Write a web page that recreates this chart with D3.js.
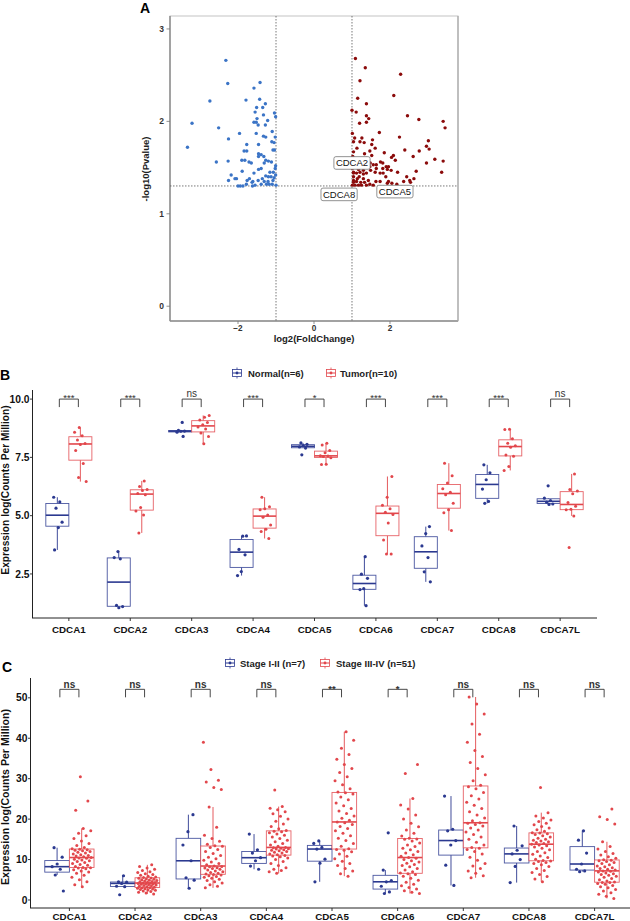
<!DOCTYPE html>
<html>
<head>
<meta charset="utf-8">
<script src="https://cdn.jsdelivr.net/npm/d3@7"></script>
<style>
body { margin: 0; background: #fff; }
svg { display: block; font-family: "Liberation Sans", Arial, sans-serif; }
</style>
</head>
<body>
<svg id="svg" width="630" height="921"></svg>
<script>
// ---- data ----
const genes = ['CDCA1', 'CDCA2', 'CDCA3', 'CDCA4', 'CDCA5', 'CDCA6', 'CDCA7', 'CDCA8', 'CDCA7L'];

// volcano: [log2FC, -log10 p]
const downGenes = [
  [-2.32,2.66],[-2.27,2.41],[-1.42,2.42],[-1.58,2.36],[-2.74,2.22],[-1.79,2.23],[-1.43,2.24],[-1.28,2.19],
  [-1.51,2.15],[-1.35,2.15],[-1.55,2.10],[-1.04,2.09],[-1.01,2.05],[-1.33,2.07],[-1.50,2.03],[-3.21,1.98],
  [-2.51,1.93],[-1.58,1.99],[-1.52,1.99],[-1.47,1.96],[-1.28,1.96],[-1.22,2.01],[-1.10,1.89],[-1.33,1.84],
  [-1.27,1.83],[-1.52,1.87],[-1.96,1.87],[-2.25,1.81],[-1.02,1.83],[-1.11,1.78],[-1.05,1.77],[-3.33,1.72],
  [-1.77,1.75],[-1.46,1.75],[-1.84,1.68],[-1.77,1.68],[-1.04,1.69],[-1.08,1.69],[-1.46,1.65],[-1.39,1.64],
  [-1.32,1.62],[-1.46,1.62],[-1.90,1.58],[-1.82,1.58],[-1.71,1.56],[-1.65,1.55],[-2.57,1.56],[-2.26,1.57],
  [-1.27,1.58],[-1.20,1.57],[-1.12,1.56],[-1.31,1.55],[-1.01,1.52],[-1.89,1.46],[-1.46,1.48],[-1.39,1.49],
  [-1.16,1.45],[-1.07,1.45],[-1.58,1.44],[-2.18,1.42],[-2.08,1.38],[-2.04,1.38],[-2.25,1.36],[-1.76,1.36],
  [-1.70,1.38],[-1.61,1.35],[-1.36,1.38],[-1.27,1.41],[-1.20,1.40],[-1.13,1.40],[-1.05,1.39],[-1.01,1.42],
  [-1.47,1.36],[-1.63,1.34],[-1.39,1.32],[-1.25,1.32],[-1.18,1.32],[-1.10,1.32],[-1.00,1.31],[-2.00,1.30],
  [-1.94,1.30],[-1.87,1.30],[-1.78,1.32],[-1.62,1.30],[-1.55,1.31],[-1.21,1.35],[-1.31,1.35],[-1.08,1.36],
  [-1.02,1.49]
];
const upGenes = [
  [1.09,2.68],[1.35,2.58],[2.28,2.51],[1.21,2.44],[1.15,2.25],[2.10,2.28],[1.38,2.19],[1.00,2.12],
  [1.11,2.10],[1.38,2.06],[1.44,2.03],[2.46,2.06],[2.76,2.02],[3.40,2.00],[3.45,1.93],[1.20,1.98],
  [1.38,1.99],[1.72,1.88],[1.01,1.87],[2.25,1.83],[1.07,1.82],[1.26,1.82],[1.04,1.78],[1.21,1.78],
  [1.32,1.77],[1.54,1.80],[3.01,1.79],[1.52,1.75],[1.13,1.71],[1.61,1.71],[2.96,1.73],[3.03,1.70],
  [2.39,1.69],[1.04,1.67],[1.47,1.68],[1.33,1.65],[2.77,1.68],[1.85,1.66],[2.09,1.63],[2.04,1.61],
  [2.14,1.58],[1.52,1.63],[1.38,1.60],[2.61,1.62],[3.18,1.59],[3.40,1.57],[1.17,1.57],[1.75,1.56],
  [1.81,1.55],[2.96,1.55],[1.48,1.55],[1.56,1.53],[1.64,1.53],[1.12,1.51],[1.34,1.52],[1.90,1.51],
  [1.93,1.48],[1.96,1.51],[2.03,1.47],[1.81,1.49],[3.36,1.45],[1.49,1.47],[1.61,1.45],[2.69,1.46],
  [2.20,1.45],[1.38,1.44],[1.74,1.44],[1.82,1.44],[1.04,1.45],[1.12,1.44],[1.21,1.45],[1.30,1.43],
  [1.89,1.40],[2.44,1.40],[1.19,1.40],[1.30,1.38],[1.43,1.36],[1.04,1.40],[1.04,1.36],[1.14,1.38],
  [1.74,1.35],[2.52,1.36],[2.63,1.38],[2.36,1.35],[1.04,1.34],[1.12,1.35],[1.23,1.34],[1.33,1.34],
  [1.47,1.32],[1.63,1.35],[1.93,1.33],[1.96,1.35],[1.01,1.31],[1.08,1.31],[1.17,1.31],[1.25,1.31],
  [1.38,1.31],[1.56,1.31],[1.04,1.44],[1.01,1.49],[1.07,1.55],[1.02,1.62],[1.17,1.48],[1.25,1.51],
  [1.30,1.47],[2.05,1.33],[2.18,1.32],[2.54,1.34],[1.47,1.51],[1.64,1.49]
];
const labelNames = ['CDCA2', 'CDCA8', 'CDCA5'];
const labelFC = [1.00, 0.66, 2.13];
const labelP = [1.55, 1.21, 1.24];
const volcanoXTicks = [-2, 0, 2];
const volcanoYTicks = [0, 1, 2, 3];

// panel B: Normal (n=6) vs Tumor (n=10)
const bNormal = [
  [5.79, 5.59, 5.32, 4.72, 4.49, 3.53],
  [3.46, 3.20, 3.15, 1.15, 1.10, 1.05],
  [9.00, 8.66, 8.63, 8.62, 8.58, 8.40],
  [4.13, 4.12, 3.55, 3.32, 2.60, 2.43],
  [8.12, 8.06, 8.00, 7.95, 7.90, 7.61],
  [3.24, 2.49, 2.31, 1.87, 1.83, 1.14],
  [4.53, 4.23, 3.70, 3.20, 2.59, 2.16],
  [7.18, 6.84, 6.54, 6.14, 5.61, 5.53],
  [6.28, 5.75, 5.65, 5.58, 5.50, 5.48]
];
const bTumor = [
  [8.78, 8.58, 8.43, 8.25, 8.10, 8.05, 7.80, 7.24, 6.64, 6.46],
  [6.49, 6.25, 6.12, 6.08, 5.95, 5.90, 5.35, 5.20, 5.03, 4.26],
  [9.30, 9.22, 9.10, 9.00, 8.90, 8.80, 8.72, 8.55, 8.40, 8.08],
  [5.79, 5.38, 5.30, 5.25, 5.03, 4.93, 4.60, 4.42, 4.32, 4.02],
  [8.11, 8.03, 7.79, 7.70, 7.57, 7.56, 7.54, 7.48, 7.20, 7.19],
  [6.68, 5.79, 5.45, 5.30, 5.15, 5.05, 4.68, 3.96, 3.36, 3.36],
  [7.25, 6.71, 6.40, 6.15, 6.00, 5.90, 5.53, 5.25, 5.12, 4.36],
  [8.71, 8.70, 8.30, 8.11, 8.00, 7.93, 7.60, 7.55, 7.11, 6.94],
  [6.79, 6.12, 6.06, 5.94, 5.56, 5.40, 5.28, 5.25, 4.99, 3.63]
];
const bSig = ['***', '***', 'ns', '***', '*', '***', '***', '***', 'ns'];
const bYTicks = [2.5, 5.0, 7.5, 10.0];
const bLegend = ['Normal(n=6)', 'Tumor(n=10)'];

// panel C: Stage I-II (n=7) vs Stage III-IV (n=51)
const cEarly = [
  [12.93, 10.6, 8.90, 8.24, 7.60, 6.18, 2.22],
  [6.0, 4.5, 4.4, 4.1, 3.4, 3.3, 1.3],
  [21.1, 16.9, 13.6, 9.7, 5.5, 4.9, 2.9],
  [16.3, 12.4, 11.6, 10.46, 9.7, 8.4, 7.6],
  [14.6, 14.0, 13.0, 12.6, 10.1, 9.1, 4.5],
  [16.6, 7.4, 4.8, 4.5, 3.4, 2.0, 1.6],
  [25.7, 17.5, 17.1, 14.7, 13.6, 8.6, 3.6],
  [18.3, 13.4, 12.3, 11.4, 10.0, 8.3, 4.3],
  [17.1, 14.8, 11.6, 8.9, 7.6, 7.2, 7.0]
];
const cLate = [
  [3.3,3.8,4.5,5.0,5.6,6.1,6.6,6.9,7.2,7.5,7.7,7.9,8.0,8.05,8.3,8.6,8.8,9.0,9.3,9.5,9.7,9.9,10.1,10.3,10.4,10.5,
   10.7,10.9,11.0,11.2,11.4,11.6,11.8,12.0,12.2,12.3,12.45,12.55,12.65,13.0,13.5,14.0,14.6,15.2,15.9,16.5,17.1,17.7,22.2,24.5,30.5],
  [1.5,1.7,1.9,2.1,2.2,2.4,2.5,2.6,2.7,2.8,2.9,3.0,3.05,3.15,3.3,3.4,3.5,3.6,3.7,3.8,3.9,3.95,4.0,4.1,4.15,4.2,
   4.3,4.4,4.5,4.6,4.7,4.8,4.9,5.0,5.1,5.2,5.35,5.45,5.55,5.7,5.9,6.1,6.3,6.5,6.8,7.0,7.3,7.6,7.9,8.3,8.7],
  [3.0,3.4,3.8,4.2,4.5,4.8,5.1,5.4,5.6,5.8,6.0,6.2,6.3,6.4,6.6,6.8,7.0,7.2,7.4,7.6,7.8,7.9,8.0,8.2,8.3,8.4,
   8.7,9.0,9.4,9.8,10.2,10.6,11.0,11.5,12.0,12.5,13.0,13.3,13.4,13.8,14.5,15.2,16.0,18.0,23.0,27.3,27.8,29.2,29.6,32.3,39.0],
  [6.6,7.0,7.3,7.6,8.0,8.5,9.0,9.5,10.0,10.4,10.7,10.9,11.0,11.2,11.4,11.6,11.8,12.0,12.2,12.3,12.4,12.6,12.7,12.8,12.9,13.0,
   13.3,13.6,14.0,14.4,14.8,15.2,15.6,16.0,16.3,16.6,16.9,17.0,17.2,17.6,18.2,18.8,19.5,20.0,20.7,21.3,21.8,22.3,22.7,23.1,27.2],
  [5.9,6.5,7.2,7.8,8.5,9.0,9.6,10.2,10.8,11.4,11.9,12.3,12.5,12.7,13.3,14.0,14.7,15.3,15.9,16.5,17.1,17.7,18.2,18.7,19.1,19.3,
   19.7,20.2,20.8,21.4,22.0,22.6,23.3,24.0,24.8,25.5,26.2,26.5,26.7,27.5,28.5,29.5,30.5,31.5,32.5,33.5,34.8,36.0,37.5,39.5,41.6],
  [1.6,1.9,2.3,2.7,3.1,3.5,3.9,4.4,4.9,5.4,5.9,6.3,6.5,6.7,7.0,7.4,7.8,8.2,8.5,8.8,9.1,9.4,9.7,10.0,10.3,10.5,
   10.8,11.2,11.6,12.0,12.4,12.8,13.2,13.6,14.1,14.6,15.0,15.1,15.3,15.8,16.5,17.3,18.1,19.0,20.0,21.0,22.5,23.5,25.1,31.3,33.5],
  [5.5,6.0,6.6,7.2,7.8,8.4,9.0,9.8,10.6,11.4,12.0,12.5,12.8,13.0,13.6,14.3,15.0,15.6,16.2,16.8,17.3,17.8,18.3,18.7,19.0,19.1,
   19.6,20.3,21.0,21.8,22.6,23.4,24.2,25.0,25.8,26.6,27.5,28.0,28.4,29.5,31.0,32.5,34.0,35.5,37.0,39.0,41.0,43.5,46.0,48.5,50.2],
  [4.5,5.2,5.8,6.3,6.8,7.3,7.8,8.3,8.7,9.0,9.3,9.5,9.65,9.75,10.1,10.5,10.9,11.3,11.7,12.0,12.4,12.8,13.1,13.4,13.6,13.8,
   14.0,14.2,14.4,14.6,14.8,15.0,15.3,15.6,15.9,16.2,16.4,16.55,16.65,17.0,17.4,17.8,18.2,18.6,19.0,19.4,19.8,20.3,20.8,21.6,27.8],
  [0.4,0.9,1.4,1.8,2.2,2.6,3.0,3.3,3.6,3.9,4.1,4.3,4.35,4.45,4.7,5.0,5.3,5.6,5.9,6.1,6.3,6.5,6.7,6.9,7.1,7.2,
   7.4,7.6,7.8,8.0,8.2,8.4,8.7,9.0,9.3,9.5,9.7,9.85,9.95,10.3,10.7,11.1,11.5,12.0,12.6,13.2,14.4,18.8,19.9,20.6,22.5]
];
const cSig = ['ns', 'ns', 'ns', 'ns', '**', '*', 'ns', 'ns', 'ns'];
const cYTicks = [0, 10, 20, 30, 40, 50];
const cLegend = ['Stage I-II (n=7)', 'Stage III-IV (n=51)'];

const blue = '#2b3990';
const red = '#e2474c';

const svg = d3.select('#svg');

// ---------------- panel A : volcano ----------------
const ax = d3.scaleLinear().domain([-3.79, 3.79]).range([170, 458]);
const ay = d3.scaleLinear().domain([-0.16, 3.14]).range([321, 16]);
const gA = svg.append('g');

gA.append('rect')
  .attr('x', 170).attr('y', 16).attr('width', 288).attr('height', 305)
  .attr('fill', 'none').attr('stroke', '#c4c4c4').attr('stroke-width', 1);
gA.append('line').attr('x1', 170).attr('x2', 170).attr('y1', 16).attr('y2', 321)
  .attr('stroke', '#8c8c8c').attr('stroke-width', 1.5);
gA.append('line').attr('x1', 170).attr('x2', 458).attr('y1', 321).attr('y2', 321)
  .attr('stroke', '#8c8c8c').attr('stroke-width', 1.5);
gA.append('line').attr('x1', 458).attr('x2', 458).attr('y1', 16).attr('y2', 321)
  .attr('stroke', '#a8a8a8').attr('stroke-width', 1.2);

[-1, 1].forEach(function(v) {
  gA.append('line').attr('x1', ax(v)).attr('x2', ax(v)).attr('y1', 16).attr('y2', 321)
    .attr('stroke', '#555').attr('stroke-width', 0.8).attr('stroke-dasharray', '1.5,1.5');
});
gA.append('line').attr('x1', 170).attr('x2', 458).attr('y1', ay(1.301)).attr('y2', ay(1.301))
  .attr('stroke', '#555').attr('stroke-width', 0.8).attr('stroke-dasharray', '1.5,1.5');

gA.selectAll('circle.down').data(downGenes).enter().append('circle')
  .attr('cx', function(d) { return ax(d[0]); })
  .attr('cy', function(d) { return ay(d[1]); })
  .attr('r', 1.7).attr('fill', '#3b74c6');
gA.selectAll('circle.up').data(upGenes).enter().append('circle')
  .attr('cx', function(d) { return ax(d[0]); })
  .attr('cy', function(d) { return ay(d[1]); })
  .attr('r', 1.7).attr('fill', '#8b0b0b');

labelNames.forEach(function(name, i) {
  const cx = ax(labelFC[i]), cy = ay(labelP[i]);
  const t = gA.append('text').attr('x', cx).attr('y', cy + 3.3)
    .attr('text-anchor', 'middle').attr('font-size', 9.5).attr('fill', '#111').text(name);
  const bb = t.node().getBBox();
  gA.insert('rect', function() { return t.node(); })
    .attr('x', bb.x - 2).attr('y', cy - 6.3).attr('width', bb.width + 4).attr('height', 12.6)
    .attr('rx', 2).attr('fill', '#fff').attr('stroke', '#777').attr('stroke-width', 0.8);
});

volcanoYTicks.forEach(function(v) {
  gA.append('line').attr('x1', 166.5).attr('x2', 170).attr('y1', ay(v)).attr('y2', ay(v))
    .attr('stroke', '#777').attr('stroke-width', 0.8);
  gA.append('text').attr('x', 164).attr('y', ay(v) + 3).attr('text-anchor', 'end')
    .attr('font-size', 8.5).attr('font-weight', 'bold').attr('fill', '#333').text(v);
});
volcanoXTicks.forEach(function(v) {
  gA.append('line').attr('x1', ax(v)).attr('x2', ax(v)).attr('y1', 321).attr('y2', 324)
    .attr('stroke', '#777').attr('stroke-width', 0.8);
  gA.append('text').attr('x', ax(v)).attr('y', 331).attr('text-anchor', 'middle')
    .attr('font-size', 8.2).attr('font-weight', 'bold').attr('fill', '#333')
    .text(v < 0 ? '\u2212' + Math.abs(v) : v);
});
gA.append('text').attr('x', 314).attr('y', 342).attr('text-anchor', 'middle')
  .attr('font-size', 9.5).attr('font-weight', 'bold').attr('fill', '#222').text('log2(FoldChange)');
gA.append('text').attr('transform', 'translate(149,169) rotate(-90)').attr('text-anchor', 'middle')
  .attr('font-size', 9.5).attr('font-weight', 'bold').attr('fill', '#222').text('-log10(Pvalue)');
svg.append('text').attr('x', 140).attr('y', 13).attr('font-size', 14).attr('font-weight', 'bold').text('A');

// ---------------- box panels ----------------
function boxStats(vals) {
  const s = vals.slice().sort(d3.ascending);
  const q1 = d3.quantile(s, 0.25), med = d3.quantile(s, 0.5), q3 = d3.quantile(s, 0.75);
  const iqr = q3 - q1;
  const lo = d3.min(s.filter(function(v) { return v >= q1 - 1.5 * iqr; }));
  const hi = d3.max(s.filter(function(v) { return v <= q3 + 1.5 * iqr; }));
  return {q1: q1, med: med, q3: q3, lo: lo, hi: hi};
}

function drawGroup(g, x, y, data, shift, bw, color, jw, r, seed) {
  data.forEach(function(vals, i) {
    const st = boxStats(vals);
    const cx = x(genes[i]) + shift;
    g.append('line').attr('x1', cx).attr('x2', cx).attr('y1', y(st.q3)).attr('y2', y(st.hi))
      .attr('stroke', color).attr('stroke-width', 0.9);
    g.append('line').attr('x1', cx).attr('x2', cx).attr('y1', y(st.q1)).attr('y2', y(st.lo))
      .attr('stroke', color).attr('stroke-width', 0.9);
    g.append('rect').attr('x', cx - bw / 2).attr('y', y(st.q3))
      .attr('width', bw).attr('height', Math.max(y(st.q1) - y(st.q3), 0.5))
      .attr('fill', '#fff').attr('stroke', color).attr('stroke-width', 0.9).attr('stroke-opacity', 0.85);
    g.append('line').attr('x1', cx - bw / 2).attr('x2', cx + bw / 2).attr('y1', y(st.med)).attr('y2', y(st.med))
      .attr('stroke', color).attr('stroke-width', 1.6);
    g.selectAll(null).data(vals).enter().append('circle')
      .attr('cx', function(d, k) { return cx + (((k * 0.6180339887 + seed + i * 0.29) % 1) - 0.5) * jw; })
      .attr('cy', function(d) { return y(d); })
      .attr('r', r).attr('fill', color);
  });
}

function drawSig(g, x, y, labels, top, legLen, half, labelY, bold) {
  labels.forEach(function(lab, i) {
    const cx = x(genes[i]);
    const yt = y(top);
    g.append('path')
      .attr('d', 'M' + (cx - half) + ',' + (yt + legLen) + 'V' + yt + 'H' + (cx + half) + 'V' + (yt + legLen))
      .attr('fill', 'none').attr('stroke', '#333').attr('stroke-width', 0.9);
    g.append('text').attr('x', cx).attr('y', lab === 'ns' ? labelY : labelY + 4)
      .attr('text-anchor', 'middle').attr('font-size', lab === 'ns' ? 10 : 9.5)
      .attr('font-weight', bold ? 'bold' : 'normal').attr('fill', '#333').text(lab);
  });
}

function drawLegend(g, items, ky, k1, t1, k2, t2) {
  [[k1, t1, blue, items[0]], [k2, t2, red, items[1]]].forEach(function(it) {
    const kx = it[0], c = it[2];
    g.append('line').attr('x1', kx).attr('x2', kx).attr('y1', ky - 5.5).attr('y2', ky + 5.5)
      .attr('stroke', c).attr('stroke-width', 0.8);
    g.append('rect').attr('x', kx - 4.5).attr('y', ky - 3.5).attr('width', 9).attr('height', 7)
      .attr('fill', '#fff').attr('stroke', c).attr('stroke-width', 0.8);
    g.append('line').attr('x1', kx - 4.5).attr('x2', kx + 4.5).attr('y1', ky).attr('y2', ky)
      .attr('stroke', c).attr('stroke-width', 1);
    g.append('circle').attr('cx', kx).attr('cy', ky).attr('r', 1.4).attr('fill', c);
    g.append('text').attr('x', it[1]).attr('y', ky + 3.5).attr('font-size', 9.5)
      .attr('font-weight', 'bold').attr('fill', '#222').text(it[3]);
  });
}

function drawAxes(g, x, y, xl, xr, yb, yt, yTicks, fmt, tickLabelY, titleX, titleY, titleSize) {
  g.append('line').attr('x1', xl).attr('x2', xr).attr('y1', yb).attr('y2', yb)
    .attr('stroke', '#222').attr('stroke-width', 1);
  g.append('line').attr('x1', xl + 0.5).attr('x2', xl + 0.5).attr('y1', yt).attr('y2', yb)
    .attr('stroke', '#222').attr('stroke-width', 1);
  genes.forEach(function(gn) {
    g.append('line').attr('x1', x(gn)).attr('x2', x(gn)).attr('y1', yb).attr('y2', yb + 3)
      .attr('stroke', '#222').attr('stroke-width', 0.9);
    g.append('text').attr('x', x(gn)).attr('y', tickLabelY).attr('text-anchor', 'middle')
      .attr('font-size', 9.8).attr('font-weight', 'bold').attr('fill', '#111').text(gn);
  });
  yTicks.forEach(function(v) {
    g.append('line').attr('x1', xl - 2).attr('x2', xl).attr('y1', y(v)).attr('y2', y(v))
      .attr('stroke', '#222').attr('stroke-width', 0.9);
    g.append('text').attr('x', xl - 2.5).attr('y', y(v) + 3.6).attr('text-anchor', 'end')
      .attr('font-size', 10.3).attr('font-weight', 'bold').attr('fill', '#111').text(fmt(v));
  });
  g.append('text').attr('transform', 'translate(' + titleX + ',' + titleY + ') rotate(-90)')
    .attr('text-anchor', 'middle').attr('font-size', titleSize).attr('font-weight', 'bold')
    .attr('fill', '#111').text('Expression log(Counts Per Million)');
}

// ---------------- panel B ----------------
const bx = d3.scalePoint().domain(genes).range([32, 597]).padding(0.6);
const by = d3.scaleLinear().domain([0.61, 10.39]).range([618, 390]);
const gB = svg.append('g');
const bStep = bx.step();
drawAxes(gB, bx, by, 32, 597, 618, 390, bYTicks, d3.format('.1f'), 633, 9, 490, 10.2);
drawGroup(gB, bx, by, bNormal, -0.1875 * bStep, 0.375 * bStep, blue, 0.16 * bStep, 1.6, 0.13);
drawGroup(gB, bx, by, bTumor, 0.1875 * bStep, 0.375 * bStep, red, 0.2 * bStep, 1.5, 0.41);
drawSig(gB, bx, by, bSig, 10.0, 8, 0.155 * bStep, 397, false);
drawLegend(gB, bLegend, 373, 237, 248, 331, 340);
svg.append('text').attr('x', 0).attr('y', 380).attr('font-size', 14).attr('font-weight', 'bold').text('B');

// ---------------- panel C ----------------
const cx = d3.scalePoint().domain(genes).range([30, 634]).padding(0.6);
const cy = d3.scaleLinear().domain([-1.98, 54.9]).range([908, 678]);
const gC = svg.append('g');
const cStep = cx.step();
drawAxes(gC, cx, cy, 30, 634, 908, 678, cYTicks, d3.format('d'), 920, 9, 797, 10.6);
drawGroup(gC, cx, cy, cEarly, -0.1875 * cStep, 0.375 * cStep, blue, 0.2 * cStep, 1.6, 0.27);
drawGroup(gC, cx, cy, cLate, 0.1875 * cStep, 0.375 * cStep, red, 0.3 * cStep, 1.5, 0.53);
drawSig(gC, cx, cy, cSig, 52.1, 8, 0.145 * cStep, 688, true);
drawLegend(gC, cLegend, 663, 230, 240, 325, 336);
svg.append('text').attr('x', 2).attr('y', 672).attr('font-size', 14).attr('font-weight', 'bold').text('C');
</script>
</body>
</html>
